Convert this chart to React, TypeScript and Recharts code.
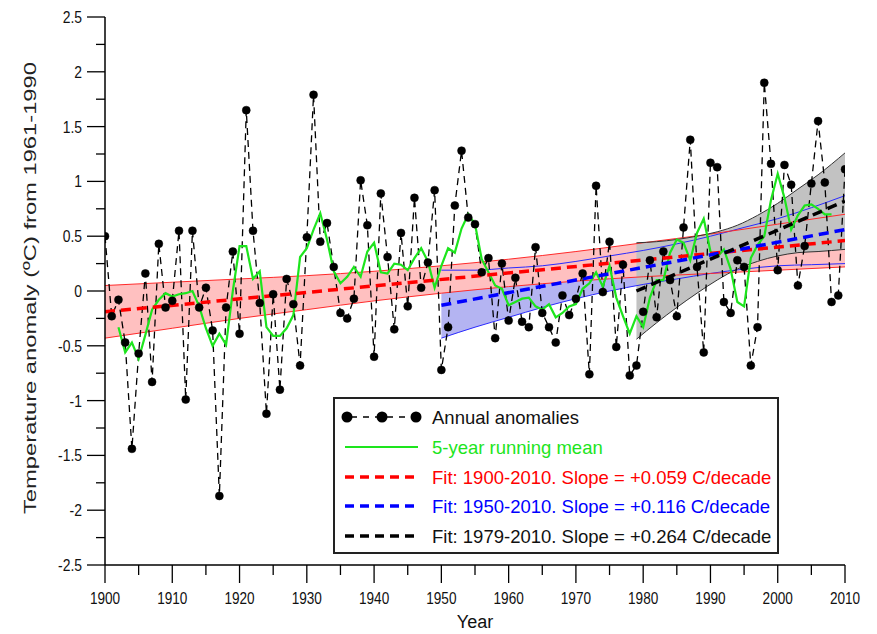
import React from 'react';
import { ComposedChart, Line, Area, XAxis, YAxis } from 'recharts';

// annual anomalies, one per year from 1900 to 2010
const firstYear = 1900;
const annual = [
  0.5, -0.23, -0.08, -0.47, -1.44, -0.57, 0.16, -0.83, 0.43, -0.15,
  -0.09, 0.55, -0.99, 0.55, -0.15, 0.03, -0.36, -1.87, -0.15, 0.36,
  -0.39, 1.65, 0.55, -0.11, -1.12, -0.03, -0.9, 0.11, -0.12, -0.68,
  0.49, 1.79, 0.45, 0.62, 0.22, -0.2, -0.25, -0.07, 1.01, 0.6,
  -0.6, 0.89, 0.31, -0.35, 0.53, -0.14, 0.85, 0.03, 0.26, 0.92,
  -0.72, -0.33, 0.78, 1.28, 0.67, 0.61, 0.17, 0.3, -0.43, 0.25,
  -0.27, 0.12, -0.28, -0.33, 0.4, -0.2, -0.33, -0.47, -0.04, -0.22,
  -0.07, 0.16, -0.76, 0.96, -0.01, 0.45, -0.51, 0.24, -0.77, -0.68,
  -0.19, 0.28, -0.24, 0.36, 0.1, -0.23, 0.58, 1.38, 0.22, -0.56,
  1.17, 1.13, -0.1, -0.2, 0.28, 0.22, -0.68, -0.33, 1.9, 1.16,
  0.19, 1.15, 0.97, 0.05, 0.41, 0.98, 1.55, 0.99, -0.1, -0.04,
  1.11,
];

// 5-year running mean (no value for the first and last two years)
const runningMean = [
  null, null, -0.33, -0.56, -0.47, -0.62, -0.4, -0.17, -0.08, -0.02,
  -0.05, -0.03, -0.02, 0.0, -0.14, -0.34, -0.5, -0.39, -0.49, 0.0,
  0.41, 0.41, 0.11, 0.18, -0.33, -0.41, -0.41, -0.34, -0.22, 0.31,
  0.39, 0.56, 0.71, 0.47, 0.18, 0.07, 0.13, 0.22, 0.13, 0.36,
  0.44, 0.17, 0.16, 0.25, 0.24, 0.19, 0.3, 0.39, 0.27, 0.03,
  0.23, 0.39, 0.35, 0.57, 0.7, 0.61, 0.29, 0.17, 0.05, 0.02,
  -0.13, -0.1, -0.07, -0.06, -0.14, -0.17, -0.12, -0.24, -0.2, -0.14,
  -0.12, 0.02, 0.07, 0.17, 0.04, 0.23, -0.06, -0.23, -0.39, -0.23,
  -0.33, -0.06, 0.1, 0.1, 0.35, 0.47, 0.44, 0.28, 0.53, 0.66,
  0.36, 0.31, 0.38, 0.2, -0.1, -0.14, 0.3, 0.42, 0.5, 0.83,
  1.07, 0.85, 0.56, 0.69, 0.78, 0.79, 0.75, 0.7, 0.7, null,
  null,
];

// confidence bands of the three fits
const redBandYears = [1900, 1910, 1920, 1930, 1940, 1950, 1960, 1970, 1980, 1990, 2000, 2010];
const redBandLow = [-0.43, -0.34, -0.25, -0.17, -0.09, -0.02, 0.04, 0.09, 0.13, 0.16, 0.19, 0.22];
const redBandHigh = [0.05, 0.08, 0.11, 0.14, 0.18, 0.23, 0.29, 0.36, 0.44, 0.52, 0.61, 0.7];

const blueBandYears = [1950, 1955, 1960, 1965, 1970, 1975, 1980, 1985, 1990, 1995, 2000, 2005, 2010];
const blueBandLow = [-0.43, -0.33, -0.24, -0.15, -0.07, 0.0, 0.06, 0.11, 0.16, 0.2, 0.23, 0.24, 0.25];
const blueBandHigh = [0.19, 0.19, 0.21, 0.23, 0.27, 0.32, 0.37, 0.43, 0.5, 0.58, 0.66, 0.76, 0.87];

const greyBandYears = [1979, 1982, 1985, 1988, 1991, 1994, 1997, 2000, 2003, 2006, 2010];
const greyBandLow = [-0.44, -0.29, -0.15, -0.02, 0.1, 0.2, 0.27, 0.32, 0.35, 0.36, 0.38];
const greyBandHigh = [0.44, 0.45, 0.47, 0.5, 0.54, 0.6, 0.69, 0.8, 0.93, 1.06, 1.26];

// straight fit lines (start and end)
const redFitYears = [1900, 2010];
const redFitValues = [-0.19, 0.46];
const blueFitYears = [1950, 2010];
const blueFitValues = [-0.13, 0.56];
const blackFitYears = [1979, 2010];
const blackFitValues = [0.0, 0.82];

const xTicks = [
  1900, 1905, 1910, 1915, 1920, 1925, 1930, 1935, 1940, 1945, 1950, 1955,
  1960, 1965, 1970, 1975, 1980, 1985, 1990, 1995, 2000, 2005, 2010,
];
const yTicks = [
  -2.5, -2.25, -2, -1.75, -1.5, -1.25, -1, -0.75, -0.5, -0.25, 0,
  0.25, 0.5, 0.75, 1, 1.25, 1.5, 1.75, 2, 2.25, 2.5,
];

const legendLabels = [
  'Annual anomalies',
  '5-year running mean',
  'Fit: 1900-2010. Slope = +0.059 C/decade',
  'Fit: 1950-2010. Slope = +0.116 C/decade',
  'Fit: 1979-2010. Slope = +0.264 C/decade',
];

const tableData = annual.map((v, i) => ({
  year: firstYear + i,
  annual: v,
  mean: runningMean[i],
}));

const toBand = (ys: number[], lo: number[], hi: number[]) =>
  ys.map((year, i) => ({ year, range: [lo[i], hi[i]] }));
const toFit = (ys: number[], vs: number[]) => ys.map((year, i) => ({ year, value: vs[i] }));

const redBand = toBand(redBandYears, redBandLow, redBandHigh);
const blueBand = toBand(blueBandYears, blueBandLow, blueBandHigh);
const greyBand = toBand(greyBandYears, greyBandLow, greyBandHigh);
const redFit = toFit(redFitYears, redFitValues);
const blueFit = toFit(blueFitYears, blueFitValues);
const blackFit = toFit(blackFitYears, blackFitValues);

const FONT = '"Liberation Sans", Arial, sans-serif';
const GREEN = '#1de51d';

const XTick = (props: any) => {
  const { x, y, payload } = props;
  const major = payload.value % 10 === 0;
  return (
    <g>
      <line x1={x} x2={x} y1={y} y2={y + (major ? 18 : 10)} stroke="#000" strokeWidth={1.3} />
      {major && (
        <text
          transform={`translate(${x},${y + 39}) scale(0.8,1)`}
          textAnchor="middle"
          fontSize={17}
          fontFamily={FONT}
          fill="#111"
        >
          {payload.value}
        </text>
      )}
    </g>
  );
};

const YTick = (props: any) => {
  const { x, y, payload } = props;
  const v = payload.value;
  const major = Math.abs(v * 2 - Math.round(v * 2)) < 1e-6;
  return (
    <g>
      <line x1={x - (major ? 18 : 9)} x2={x} y1={y} y2={y} stroke="#000" strokeWidth={1.3} />
      {major && (
        <text
          transform={`translate(${x - 23},${y + 6}) scale(0.82,1)`}
          textAnchor="end"
          fontSize={17}
          fontFamily={FONT}
          fill="#111"
        >
          {String(v)}
        </text>
      )}
    </g>
  );
};

const LegendBox = () => {
  const rowY = [20, 50, 80, 109, 139];
  return (
    <svg
      width={446}
      height={157}
      style={{ position: 'absolute', left: 333, top: 397 }}
    >
      <rect x={1} y={1} width={444} height={155} fill="#fff" stroke="#222" strokeWidth={2} />
      <line x1={14} x2={83} y1={rowY[0]} y2={rowY[0]} stroke="#000" strokeWidth={1.5} strokeDasharray="6 6" strokeDashoffset={-4} />
      {[14, 49, 83].map((cx) => (
        <circle key={cx} cx={cx} cy={rowY[0]} r={5.5} fill="#000" />
      ))}
      <line x1={12} x2={85} y1={rowY[1]} y2={rowY[1]} stroke={GREEN} strokeWidth={2} />
      <line x1={12} x2={85} y1={rowY[2]} y2={rowY[2]} stroke="#ff0000" strokeWidth={3.5} strokeDasharray="9 6" />
      <line x1={12} x2={85} y1={rowY[3]} y2={rowY[3]} stroke="#0000ff" strokeWidth={3.5} strokeDasharray="9 6" />
      <line x1={12} x2={85} y1={rowY[4]} y2={rowY[4]} stroke="#000" strokeWidth={3.5} strokeDasharray="9 6" />
      {legendLabels.map((t, i) => (
        <text
          key={t}
          x={99}
          y={rowY[i] + 6.5}
          fontSize={18.5}
          fontFamily={FONT}
          fill={['#111', GREEN, '#ff0000', '#0000ff', '#111'][i]}
        >
          {t}
        </text>
      ))}
    </svg>
  );
};

const App: React.FC = () => {
  return (
    <div
      style={{
        position: 'absolute',
        left: 0,
        top: 0,
        width: 877,
        height: 634,
        background: '#fff',
        fontFamily: FONT,
      }}
    >
      <ComposedChart
        width={877}
        height={634}
        data={tableData}
        margin={{ top: 17, right: 32, left: 0, bottom: 0 }}
      >
        <XAxis
          type="number"
          dataKey="year"
          domain={[1900, 2010]}
          ticks={xTicks}
          interval={0}
          allowDataOverflow
          height={69}
          tickSize={0}
          tickMargin={0}
          tick={<XTick />}
          axisLine={{ stroke: '#000', strokeWidth: 1.5 }}
          label={{
            content: () => (
              <text x={475} y={628} textAnchor="middle" fontSize={18} fontFamily={FONT} fill="#111">
                Year
              </text>
            ),
          }}
        />
        <YAxis
          type="number"
          domain={[-2.5, 2.5]}
          ticks={yTicks}
          interval={0}
          allowDataOverflow
          width={105}
          tickSize={0}
          tickMargin={0}
          tick={<YTick />}
          axisLine={{ stroke: '#000', strokeWidth: 1.5 }}
          label={{
            content: () => (
              <text
                transform="translate(36,288) rotate(-90)"
                textAnchor="middle"
                fontSize={17}
                fontFamily={FONT}
                fill="#222"
                textLength={452}
                lengthAdjust="spacingAndGlyphs"
              >
                Temperature anomaly (ºC) from 1961-1990
              </text>
            ),
          }}
        />

        {/* band fills */}
        <Area data={blueBand} dataKey="range" type="monotone" stroke="none" fill="#b4b4f2" fillOpacity={1} dot={false} activeDot={false} isAnimationActive={false} />
        <Area data={redBand} dataKey="range" type="monotone" stroke="none" fill="#ffc0c0" fillOpacity={1} dot={false} activeDot={false} isAnimationActive={false} />
        <Area data={greyBand} dataKey="range" type="monotone" stroke="none" fill="#c2c2c2" fillOpacity={1} dot={false} activeDot={false} isAnimationActive={false} />

        {/* band edges */}
        <Area data={blueBand} dataKey="range" type="monotone" stroke="#2a2aff" strokeWidth={1} fill="none" dot={false} activeDot={false} isAnimationActive={false} />
        <Area data={redBand} dataKey="range" type="monotone" stroke="#ff2a2a" strokeWidth={1} fill="none" dot={false} activeDot={false} isAnimationActive={false} />
        <Area data={greyBand} dataKey="range" type="monotone" stroke="#333" strokeWidth={1} fill="none" dot={false} activeDot={false} isAnimationActive={false} />

        <Line
          dataKey="annual"
          type="linear"
          stroke="#000"
          strokeWidth={1.3}
          strokeDasharray="7 5"
          dot={{ r: 4, fill: '#000', stroke: '#000', strokeWidth: 0.5, strokeDasharray: '' }}
          activeDot={false}
          isAnimationActive={false}
        />
        <Line dataKey="mean" type="linear" stroke={GREEN} strokeWidth={2.2} dot={false} activeDot={false} isAnimationActive={false} />

        <Line data={redFit} dataKey="value" type="linear" stroke="#ff0000" strokeWidth={3.5} strokeDasharray="10 6" dot={false} activeDot={false} isAnimationActive={false} />
        <Line data={blueFit} dataKey="value" type="linear" stroke="#0000ff" strokeWidth={3.5} strokeDasharray="10 6" dot={false} activeDot={false} isAnimationActive={false} />
        <Line data={blackFit} dataKey="value" type="linear" stroke="#000" strokeWidth={3.5} strokeDasharray="10 6" dot={false} activeDot={false} isAnimationActive={false} />
      </ComposedChart>
      <LegendBox />
    </div>
  );
};

export default App;
